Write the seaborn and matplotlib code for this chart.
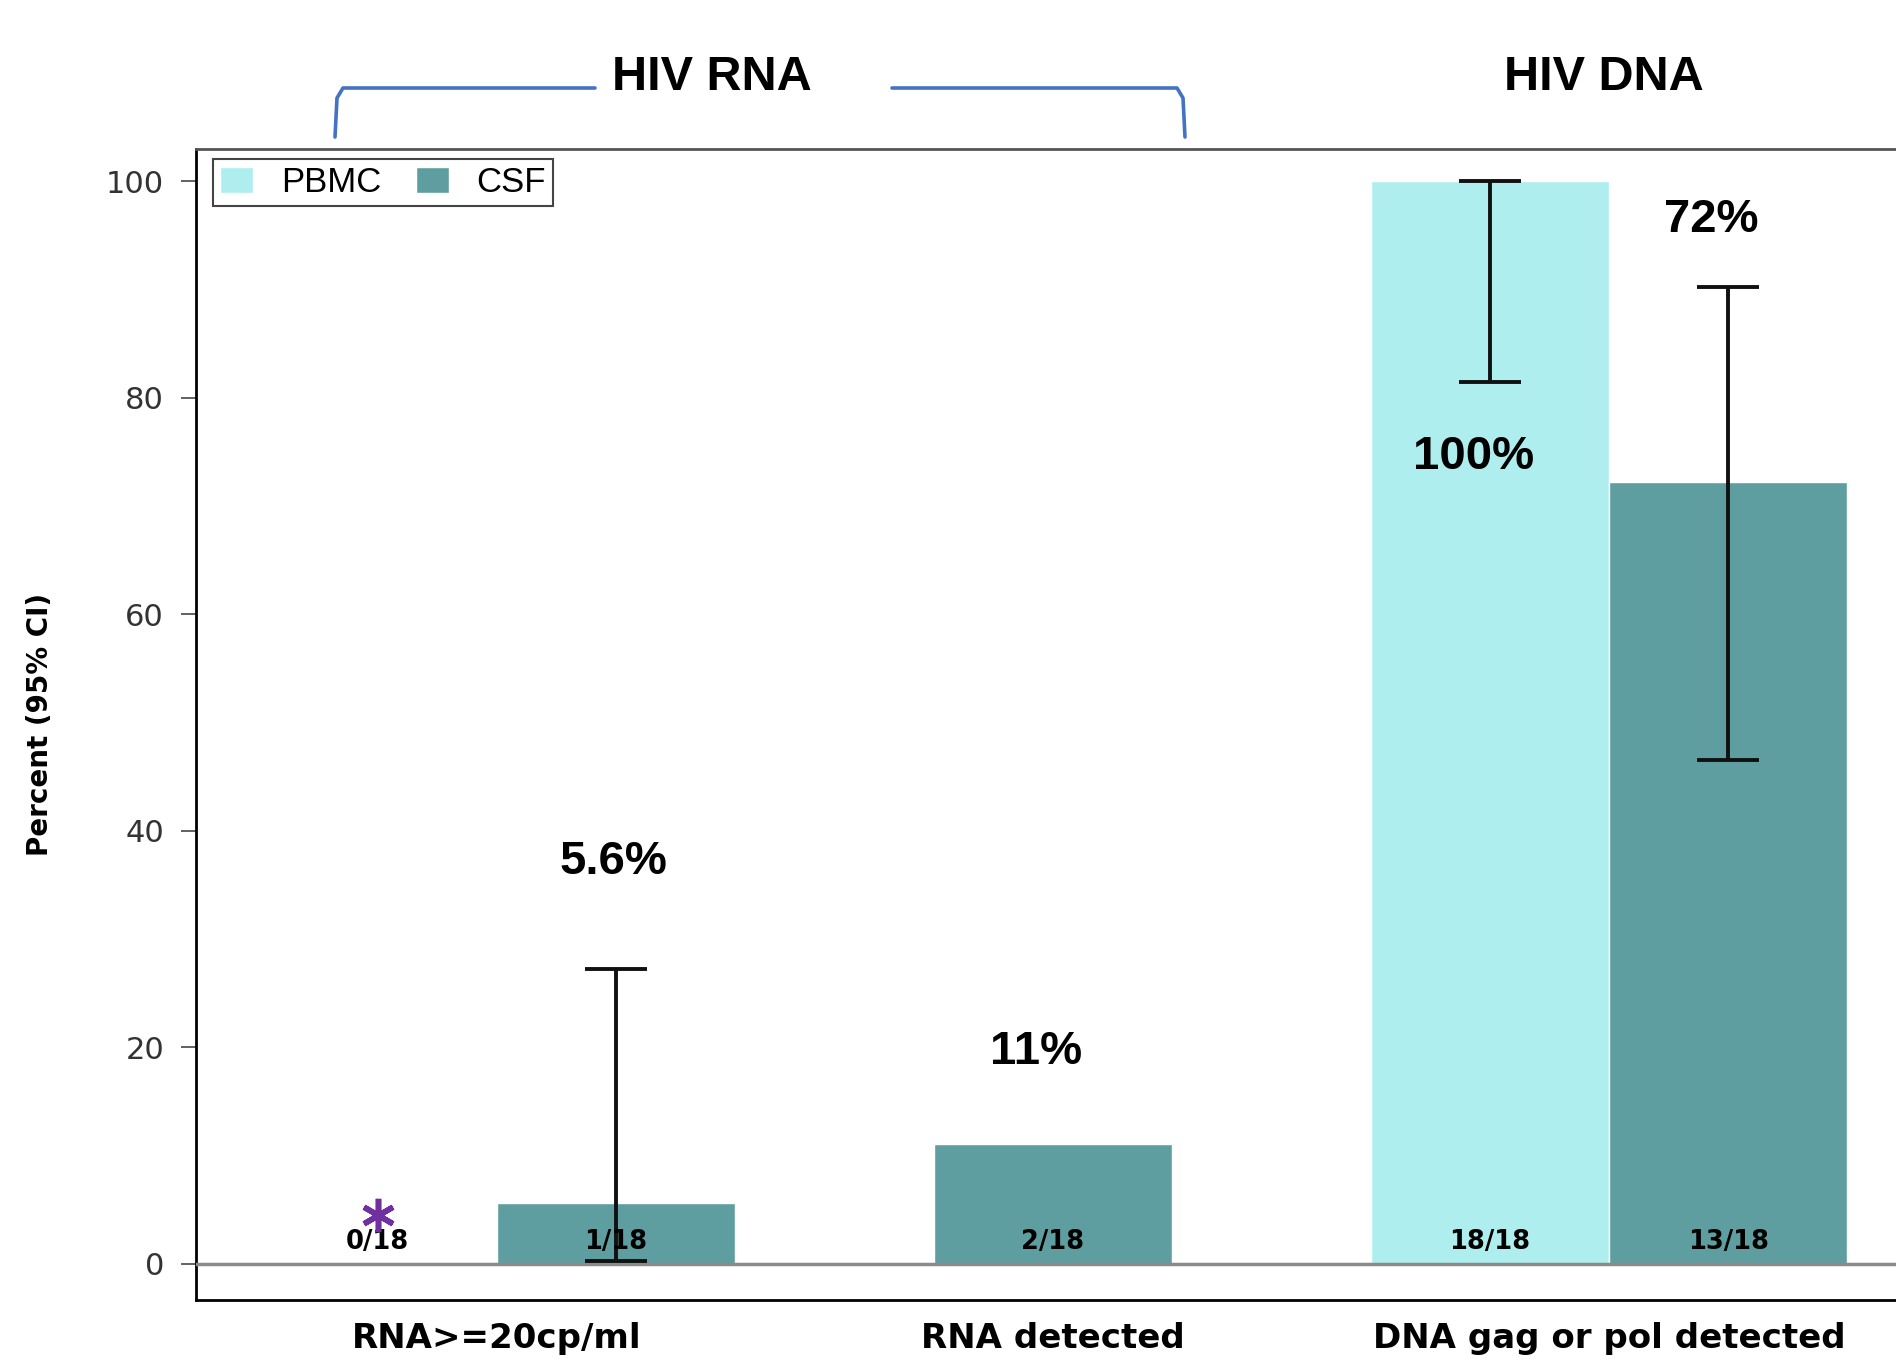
"""
HIV RNA / DNA detection in PBMC and CSF, bar chart with 95% CI.
"""
import matplotlib

matplotlib.use("Agg")  # no display
import matplotlib.pyplot as plt
import numpy as np
import pandas as pd
import seaborn as sns
from matplotlib.lines import Line2D

# --- data ------------------------------------------------------------------
categories = ["RNA>=20cp/ml", "RNA detected", "DNA gag or pol detected"]
samples = ["PBMC", "CSF"]

pbmc_pct = [0.0, np.nan, 100.0]
csf_pct = [5.6, 11.1, 72.2]

pbmc_ci_low = [np.nan, np.nan, 81.5]
pbmc_ci_high = [np.nan, np.nan, 100.0]
csf_ci_low = [0.3, np.nan, 46.5]
csf_ci_high = [27.2, np.nan, 90.2]

pbmc_counts = ["0/18", "", "18/18"]
csf_counts = ["1/18", "2/18", "13/18"]

# percent call-outs: (category index, sample, text)
pct_labels = [(0, "CSF", "5.6%"), (1, "CSF", "11%"), (2, "PBMC", "100%"), (2, "CSF", "72%")]
pct_label_y = [37.1, 19.6, 74.5, 96.4]
pct_label_dx = [-0.005, -0.03, -0.03, -0.03]

palette = {"PBMC": "#AFEEEE", "CSF": "#5F9EA0"}
GROUP_WIDTH = 0.857

sns.set_theme(style="white")
plt.rcParams["font.family"] = ["DejaVu Sans"]
plt.rcParams["text.color"] = "black"
plt.rcParams["axes.labelcolor"] = "black"

df = pd.DataFrame({
    "category": categories * 2,
    "sample": ["PBMC"] * 3 + ["CSF"] * 3,
    "pct": pbmc_pct + csf_pct,
})
paired = df[df["category"] != "RNA detected"]
single = df[(df["category"] == "RNA detected") & (df["sample"] == "CSF")]

fig = plt.figure(figsize=(18.96, 13.59), dpi=100)
ax = fig.add_axes([0.1034, 0.0434, 0.8966, 0.8470])

sns.barplot(data=paired, x="category", y="pct", hue="sample", order=categories,
            hue_order=samples, palette=palette, width=GROUP_WIDTH, saturation=1,
            errorbar=None, ax=ax, zorder=2)
# PBMC was not reported for "RNA detected": single, centred CSF bar
sns.barplot(data=single, x="category", y="pct", order=categories,
            color=palette["CSF"], width=GROUP_WIDTH / 2, saturation=1,
            errorbar=None, ax=ax, zorder=2)


def bar_x(i, sample):
    if np.isnan(pbmc_pct[i]):
        return float(i)
    off = GROUP_WIDTH / 4
    return i - off if sample == "PBMC" else i + off


# error bars (95% CI)
for sample, vals, lows, highs in [("PBMC", pbmc_pct, pbmc_ci_low, pbmc_ci_high),
                                  ("CSF", csf_pct, csf_ci_low, csf_ci_high)]:
    for i, (v, lo, hi) in enumerate(zip(vals, lows, highs)):
        if np.isnan(lo):
            continue
        ax.errorbar(bar_x(i, sample), v, yerr=[[v - lo], [hi - v]], fmt="none",
                    ecolor="#111111", elinewidth=2.8, capsize=22, capthick=2.8, zorder=4)

ax.axhline(0, color="#8a8a8a", lw=2.5, zorder=3)

# n/N labels near the base
for sample, counts in [("PBMC", pbmc_counts), ("CSF", csf_counts)]:
    for i, s in enumerate(counts):
        if s:
            ax.text(bar_x(i, sample), 2.0, s, ha="center", va="center",
                    fontsize=18.5, fontweight="bold", color="black", zorder=5)

for (i, sample, s), y, dx in zip(pct_labels, pct_label_y, pct_label_dx):
    ax.text(bar_x(i, sample) + dx, y, s, ha="center", va="center",
            fontsize=34, fontweight="bold", family=["Liberation Sans", "DejaVu Sans"], zorder=5)

# asterisk over the 0/18 PBMC bar
ax.plot(bar_x(0, "PBMC"), 4.5, marker=(6, 2, 0), ms=24, mew=4,
        color="#7030A0", zorder=6, clip_on=False)

ax.set_xlim(-0.541, 2.516)
ax.set_ylim(-3.35, 103.0)
ax.set_yticks(range(0, 101, 20))
ax.set_xlabel("")
ax.set_ylabel("Percent (95% CI)", fontsize=20, fontweight="bold")
ax.yaxis.set_label_coords(-0.0835, 0.5)
ax.tick_params(axis="y", left=True, length=11, width=1.3, color="#555555", pad=12,
               labelsize=22, labelcolor="#333333")
ax.tick_params(axis="x", bottom=False, length=0, pad=16, labelsize=24.5, labelcolor="black")
for lab in ax.get_xticklabels():
    lab.set_fontweight("bold")

for side in ["left", "bottom"]:
    ax.spines[side].set_color("black")
    ax.spines[side].set_linewidth(2)
ax.spines["top"].set_color("#555555")
ax.spines["top"].set_linewidth(2)
ax.spines["right"].set_visible(False)

handles, labels = ax.get_legend_handles_labels()
ax.legend(handles, labels, ncol=2, loc="upper left", bbox_to_anchor=(0.010, 0.991),
          borderaxespad=0, frameon=True, fancybox=False, framealpha=1,
          edgecolor="#444444", handlelength=0.95, handleheight=0.8,
          handletextpad=0.8, columnspacing=1.0, borderpad=0.2, labelcolor="black",
          prop={"family": ["Liberation Sans", "DejaVu Sans"], "size": 25})
ax.get_legend().get_frame().set_linewidth(1.5)

# group headings and bracket above the axes (figure coordinates)
W, H = 1896.0, 1359.0


def fx(px):
    return px / W


def fy(py):
    return 1 - py / H


bracket = "#4472C4"
fig.add_artist(Line2D([fx(335), fx(337), fx(343), fx(595)],
                      [fy(137), fy(98), fy(88), fy(88)], color=bracket, lw=2.6))
fig.add_artist(Line2D([fx(892), fx(1177), fx(1183), fx(1185)],
                      [fy(88), fy(88), fy(98), fy(137)], color=bracket, lw=2.6))
head_font = ["Liberation Sans Narrow", "Liberation Sans", "DejaVu Sans"]
fig.text(fx(712), fy(78), "HIV RNA", ha="center", va="center", fontsize=35,
         fontweight="bold", family=head_font, color="black")
fig.text(fx(1604), fy(78), "HIV DNA", ha="center", va="center", fontsize=35,
         fontweight="bold", family=head_font, color="black")

fig.savefig("out.png", dpi=100, facecolor="white")
plt.close(fig)
